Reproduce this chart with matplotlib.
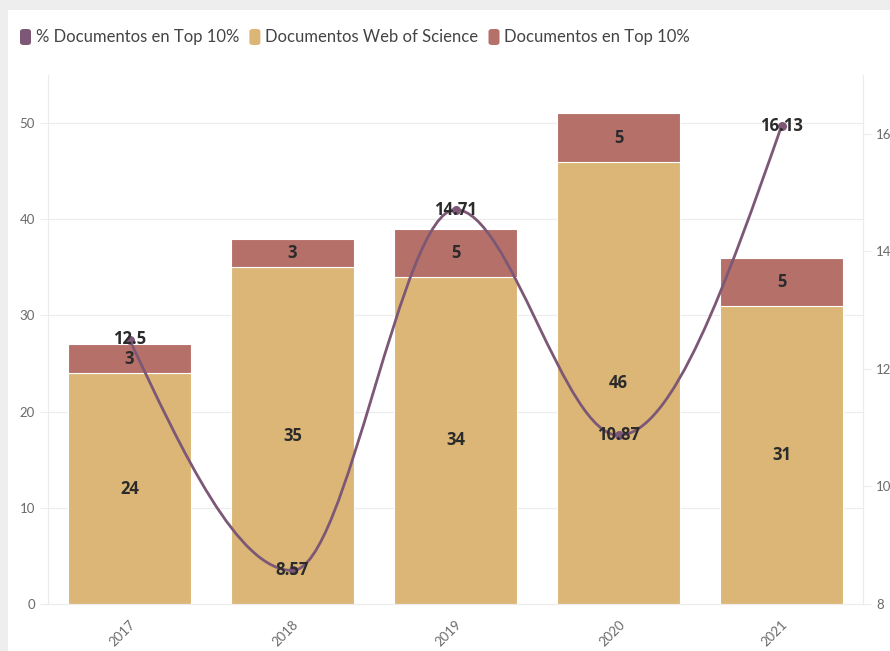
import matplotlib.pyplot as plt
import numpy as np
from matplotlib.path import Path
from matplotlib.patches import PathPatch, Rectangle, FancyBboxPatch

# Data
years = ['2017', '2018', '2019', '2020', '2021']
docs_wos = [24, 35, 34, 46, 31]
docs_top10 = [3, 3, 5, 5, 5]
pct_top10 = [12.5, 8.57, 14.71, 10.87, 16.13]

TAN = '#dcb677'
RED = '#b5706a'
PURPLE = '#7d5876'
GRID = '#ececec'
TICK = '#6a6a6a'
LABEL = '#2b2b2b'


def monotone_path(xs, ys):
    """Cubic bezier path through the points, monotone in x (like d3.curveMonotoneX)."""
    xs = np.asarray(xs, float)
    ys = np.asarray(ys, float)
    n = len(xs)
    h = np.diff(xs)
    s = np.diff(ys) / h
    t = np.zeros(n)
    for i in range(1, n - 1):
        p = (s[i - 1] * h[i] + s[i] * h[i - 1]) / (h[i - 1] + h[i])
        t[i] = (np.sign(s[i - 1]) + np.sign(s[i])) * min(abs(s[i - 1]), abs(s[i]), 0.5 * abs(p))
    t[0] = (3 * s[0] - t[1]) / 2
    t[-1] = (3 * s[-1] - t[-2]) / 2
    verts = [(xs[0], ys[0])]
    codes = [Path.MOVETO]
    for i in range(n - 1):
        dx = h[i] / 3
        verts += [(xs[i] + dx, ys[i] + dx * t[i]),
                  (xs[i + 1] - dx, ys[i + 1] - dx * t[i + 1]),
                  (xs[i + 1], ys[i + 1])]
        codes += [Path.CURVE4] * 3
    return Path(verts, codes)


fig = plt.figure(figsize=(8.9, 6.51), dpi=100, facecolor='#eeeeee')
fig.patches.append(Rectangle((8 / 890, 0), 1, 1 - 10 / 651, transform=fig.transFigure,
                             facecolor='white', edgecolor='none', zorder=-10))

ax = fig.add_axes([48 / 890, 1 - 604 / 651, (863 - 48) / 890, (604 - 75) / 651])
ax.set_facecolor('none')
x = np.arange(len(years))

ax.bar(x, docs_wos, width=0.75, color=TAN, edgecolor='white', linewidth=0.8, zorder=2)
ax.bar(x, docs_top10, width=0.75, bottom=docs_wos, color=RED, edgecolor='white',
       linewidth=0.8, zorder=2)

for xi, a, b in zip(x, docs_wos, docs_top10):
    ax.text(xi, a / 2, str(a), ha='center', va='center', fontsize=12,
            fontweight='bold', color=LABEL, family='Open Sans', zorder=6)
    ax.text(xi, a + b / 2, str(b), ha='center', va='center', fontsize=12,
            fontweight='bold', color=LABEL, family='Open Sans', zorder=6)

ax.set_xlim(-0.5, len(years) - 0.5)
ax.set_ylim(0, 55)
ax.set_yticks([0, 10, 20, 30, 40, 50])
ax.yaxis.grid(True, color=GRID, linewidth=0.8)
ax.set_axisbelow(True)
ax.set_xticks(x)
ax.set_xticklabels(years, rotation=45, ha='right', rotation_mode='anchor')
ax.tick_params(axis='both', colors=GRID, labelcolor=TICK, labelsize=9.5, length=6)
ax.tick_params(axis='x', length=0, pad=10)
for lab in ax.get_xticklabels() + ax.get_yticklabels():
    lab.set_family('Lato')
for side in ['top', 'right']:
    ax.spines[side].set_visible(False)
for side in ['left', 'bottom']:
    ax.spines[side].set_color(GRID)

ax2 = ax.twinx()
ax2.set_ylim(8, 17)
ax2.set_yticks([8, 10, 12, 14, 16])
ax2.tick_params(axis='y', colors=GRID, labelcolor=TICK, labelsize=9.5, length=6)
for lab in ax2.get_yticklabels():
    lab.set_family('Lato')
for side in ['top', 'left', 'bottom']:
    ax2.spines[side].set_visible(False)
ax2.spines['right'].set_color(GRID)

ax2.add_patch(PathPatch(monotone_path(x, pct_top10), facecolor='none',
                        edgecolor=PURPLE, linewidth=2, zorder=4))
ax2.scatter(x, pct_top10, s=30, color=PURPLE, zorder=5)
for xi, v in zip(x, pct_top10):
    ax2.text(xi, v, f'{v:g}', ha='center', va='center', fontsize=12,
             fontweight='bold', color=LABEL, family='Open Sans', zorder=6)

# Legend at top-left with rounded swatches
legend_items = [('% Documentos en Top 10%', PURPLE),
                ('Documentos Web of Science', TAN),
                ('Documentos en Top 10%', RED)]
lx = 20 / 890
ly = 1 - 37 / 651
renderer = fig.canvas.get_renderer()
for name, col in legend_items:
    fig.patches.append(FancyBboxPatch((lx, ly - 8 / 651), 11 / 890, 16 / 651,
                                      boxstyle='round,pad=0,rounding_size=0.004',
                                      transform=fig.transFigure, facecolor=col,
                                      edgecolor='none'))
    t = fig.text(lx + 16 / 890, ly, name, ha='left', va='center', fontsize=12,
                 color='#444444', family='Lato')
    w = t.get_window_extent(renderer=renderer).width
    lx += (16 + w + 10) / 890

fig.savefig('out.png', dpi=100, facecolor=fig.get_facecolor())
